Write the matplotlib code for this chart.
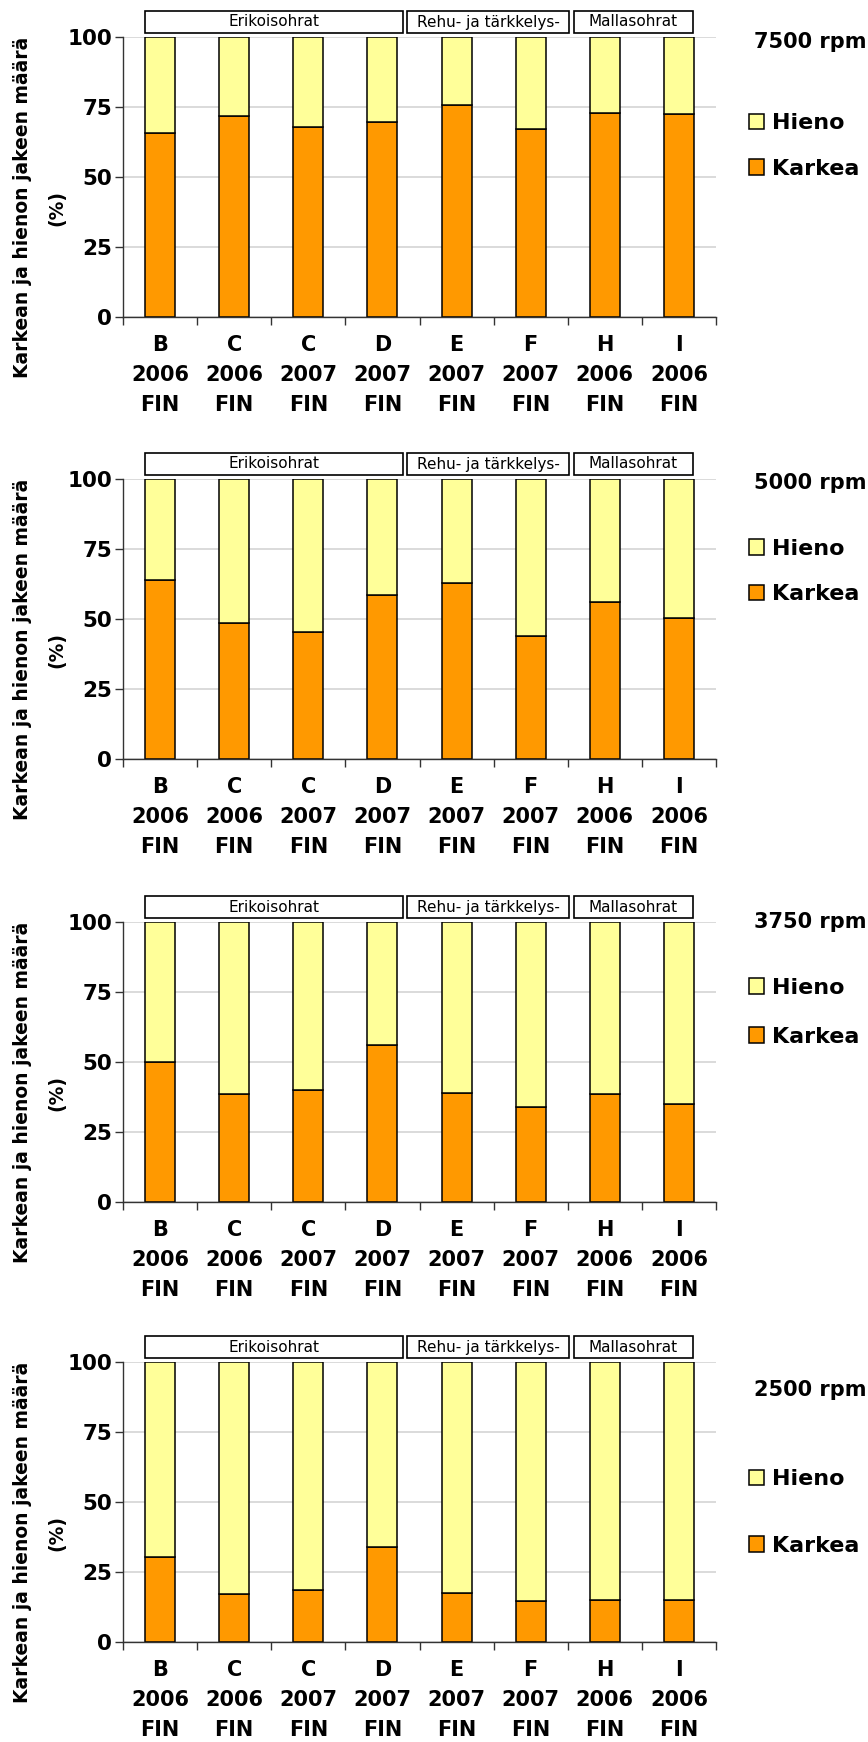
import numpy as np
import matplotlib.pyplot as plt
from matplotlib.patches import Rectangle

categories = ["B\n2006\nFIN", "C\n2006\nFIN", "C\n2007\nFIN", "D\n2007\nFIN",
              "E\n2007\nFIN", "F\n2007\nFIN", "H\n2006\nFIN", "I\n2006\nFIN"]
speeds = ["7500 rpm", "5000 rpm", "3750 rpm", "2500 rpm"]

# share of coarse fraction (Karkea), %; fine (Hieno) is the rest up to 100
karkea_7500 = [65.8, 71.7, 67.9, 69.6, 75.6, 67.3, 73.0, 72.4]
karkea_5000 = [64.0, 48.5, 45.5, 58.5, 63.0, 44.0, 56.0, 50.5]
karkea_3750 = [50.0, 38.5, 40.0, 56.0, 39.0, 34.0, 38.5, 35.0]
karkea_2500 = [30.4, 17.0, 18.5, 34.0, 17.5, 14.5, 15.0, 15.0]
karkea_all = [karkea_7500, karkea_5000, karkea_3750, karkea_2500]

groups = ["Erikoisohrat", "Rehu- ja tärkkelys-", "Mallasohrat"]

W, H = 868, 1742
ORANGE = "#FF9900"
YELLOW = "#FFFF99"

# layout in pixels
tops = [37, 479, 922, 1362]
ax_h = 280
ax_left, ax_w = 123, 593
box_x = [(145, 403), (407, 569), (574, 693)]
title_y = [0.982, 0.986, 1.0, 0.90]
legend_y = [0.611, 0.670, 0.678, 0.4625]
legend_sp = [1.15, 1.15, 1.3, 2.1]

fig = plt.figure(figsize=(W / 100, H / 100), dpi=100)
x = np.arange(len(categories))

for i, karkea in enumerate(karkea_all):
    karkea = np.array(karkea)
    hieno = 100 - karkea
    ax = fig.add_axes([ax_left / W, 1 - (tops[i] + ax_h) / H, ax_w / W, ax_h / H])

    b1 = ax.bar(x, karkea, width=0.405, color=ORANGE, edgecolor="black", lw=1.1, label="Karkea")
    b2 = ax.bar(x, hieno, bottom=karkea, width=0.405, color=YELLOW, edgecolor="black", lw=1.1, label="Hieno")

    ax.set_xlim(-0.5, 7.5)
    ax.set_ylim(0, 100)
    ax.set_axisbelow(True)
    ax.yaxis.grid(True, color="#d4d4d4", lw=1.2)
    for s in ["top", "right"]:
        ax.spines[s].set_visible(False)
    for s in ["left", "bottom"]:
        ax.spines[s].set_color("#333333")
        ax.spines[s].set_linewidth(1.0)

    ax.set_yticks([0, 25, 50, 75, 100])
    ax.tick_params(axis="y", length=6, width=1, color="#333333", pad=2, labelsize=15.5)
    for t in ax.get_yticklabels():
        t.set_fontweight("bold")

    ax.set_xticks(x)
    ax.set_xticklabels(categories, fontsize=15, fontweight="bold", linespacing=1.62)
    ax.set_xticks(np.arange(-0.5, 8, 1), minor=True)
    ax.tick_params(axis="x", which="major", length=0, pad=13)
    ax.tick_params(axis="x", which="minor", length=6, width=1, color="#333333")

    # y label
    ax.text(-0.169, 0.39, "Karkean ja hienon jakeen määrä", transform=ax.transAxes,
            rotation=90, ha="center", va="center", fontsize=13.5, fontweight="bold")
    ax.text(-0.111, 0.39, "(%)", transform=ax.transAxes,
            rotation=90, ha="center", va="center", fontsize=13.5, fontweight="bold")

    # group header boxes
    for (x0, x1), g in zip(box_x, groups):
        fx0 = (x0 - ax_left) / ax_w
        fx1 = (x1 - ax_left) / ax_w
        ax.add_patch(Rectangle((fx0, 1 + 4 / ax_h), fx1 - fx0, 22 / ax_h, transform=ax.transAxes,
                               facecolor="white", edgecolor="black", lw=1.2, clip_on=False))
        ax.text((fx0 + fx1) / 2, 1 + 15 / ax_h, g, transform=ax.transAxes,
                ha="center", va="center", fontsize=11)

    # speed title and legend
    ax.text(1.064, title_y[i], speeds[i], transform=ax.transAxes,
            ha="left", va="center", fontsize=15, fontweight="bold")
    leg = ax.legend(handles=[b2, b1], labels=["Hieno", "Karkea"], loc="center left",
                    bbox_to_anchor=(1.055, legend_y[i]), frameon=False,
                    handlelength=0.7, handleheight=0.7, handletextpad=0.35,
                    borderpad=0, borderaxespad=0, labelspacing=legend_sp[i],
                    prop={"size": 16, "weight": "bold"})

fig.savefig("out.png", dpi=100)
